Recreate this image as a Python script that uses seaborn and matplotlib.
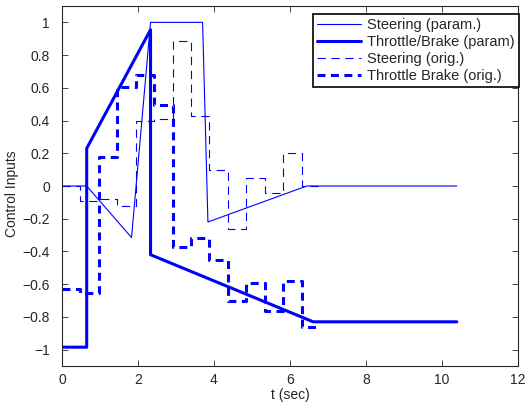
import matplotlib
matplotlib.use("Agg")
import matplotlib.pyplot as plt
import numpy as np
import seaborn as sns

# parametrised inputs (piecewise linear)
steer_param_t = [0, 0.65, 1.83, 2.33, 3.70, 3.84, 6.44, 10.39]
steer_param_u = [0, 0, -0.315, 1.0, 1.0, -0.22, 0, 0]
throttle_param_t = [0, 0.65, 0.65, 2.33, 2.33, 6.61, 10.39]
throttle_param_u = [-0.985, -0.985, 0.23, 0.955, -0.42, -0.83, -0.83]

# original inputs (zero-order hold, sample period ~0.485 s)
dt = 0.485
steer_orig_u = [0, -0.09, -0.08, -0.125, 0.40, 0.41, 0.885, 0.43, 0.095,
                -0.265, 0.05, -0.045, 0.20, 0]
throttle_orig_u = [-0.63, -0.655, 0.175, 0.605, 0.68, 0.495, -0.37, -0.32,
                   -0.45, -0.70, -0.59, -0.765, -0.58, -0.86]

sns.set_style("ticks")
plt.rcParams['font.family'] = ['Liberation Sans', 'DejaVu Sans']

fig = plt.figure(figsize=(5.25, 4.07), dpi=100)
ax = fig.add_axes([62/525, 1 - 366/407, 456/525, 360/407])

blue = (0, 0, 1)
t_orig = np.arange(len(steer_orig_u) + 1) * dt
s_orig = steer_orig_u + [steer_orig_u[-1]]
th_orig = throttle_orig_u + [throttle_orig_u[-1]]

sns.lineplot(x=steer_param_t, y=steer_param_u, ax=ax, color=blue, lw=0.8,
             estimator=None, sort=False)
sns.lineplot(x=throttle_param_t, y=throttle_param_u, ax=ax, color=blue, lw=2.2,
             estimator=None, sort=False)
sns.lineplot(x=t_orig, y=s_orig, ax=ax, color=blue, lw=0.8, drawstyle='steps-post',
             estimator=None, sort=False)
sns.lineplot(x=t_orig, y=th_orig, ax=ax, color=blue, lw=2.2, drawstyle='steps-post',
             estimator=None, sort=False)
lines = ax.get_lines()
lines[2].set_dashes((7.5, 5))
lines[3].set_dashes((2.6, 1.8))
labels = ['Steering (param.)', 'Throttle/Brake (param)', 'Steering (orig.)',
          'Throttle Brake (orig.)']

ax.set_xlim(0, 12)
ax.set_ylim(-1.1, 1.1)
ax.set_xticks(np.arange(0, 13, 2))
ax.set_yticks(np.round(np.arange(-1, 1.01, 0.2), 1))
ax.set_yticklabels(['\u22121', '\u22120.8', '\u22120.6', '\u22120.4', '\u22120.2', '0',
                    '0.2', '0.4', '0.6', '0.8', '1'])
ax.tick_params(direction='in', top=True, right=True, labelsize=10, length=4, width=0.6)
ax.tick_params(axis='y', pad=8.6)
ax.tick_params(axis='x', pad=5)
for sp in ax.spines.values():
    sp.set_linewidth(0.8)
ax.set_xlabel('t (sec)', fontsize=10, labelpad=1)
ax.set_ylabel('Control Inputs', fontsize=10)
ax.yaxis.set_label_coords(-0.094, 0.478)

leg = ax.legend(lines[:4], labels, loc='upper right', bbox_to_anchor=(1.002, 0.978),
                fontsize=10.5, fancybox=False, edgecolor='black', framealpha=1,
                handlelength=3.0, handletextpad=0.4, labelspacing=0.2, borderpad=0.3,
                borderaxespad=0)
leg.get_frame().set_linewidth(1.2)

fig.savefig('out.png', dpi=100)
